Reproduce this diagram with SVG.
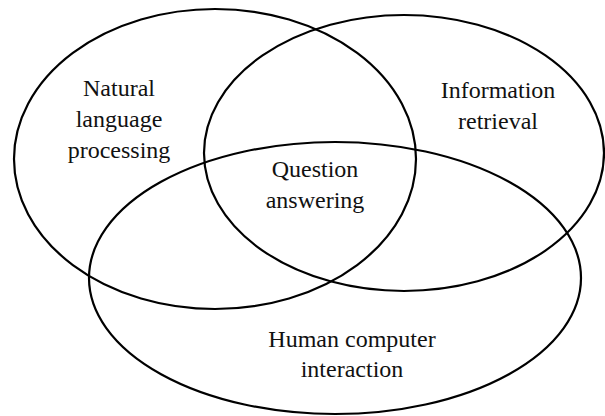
<svg xmlns="http://www.w3.org/2000/svg" width="605" height="416" viewBox="0 0 605 416">
<style>
.c{fill:none;stroke:#000;stroke-width:2.2}
text{font-family:'Liberation Serif','Times New Roman',serif;font-size:24px;fill:#111;text-anchor:middle}
</style>
<rect width="605" height="416" fill="#fff"/>
<g id="nlp">
<ellipse class="c" cx="215" cy="159" rx="201" ry="150"/>
<text x="119" y="96">Natural</text>
<text x="119" y="127">language</text>
<text x="119" y="158">processing</text>
</g>
<g id="ir">
<ellipse class="c" cx="404" cy="153" rx="200" ry="138"/>
<text x="498" y="98">Information</text>
<text x="498" y="129">retrieval</text>
</g>
<g id="hci">
<ellipse class="c" cx="335" cy="278" rx="246" ry="136"/>
<text x="352" y="347">Human computer</text>
<text x="352" y="377">interaction</text>
</g>
<g id="qa">
<text x="315" y="177">Question</text>
<text x="315" y="208">answering</text>
</g>
</svg>
